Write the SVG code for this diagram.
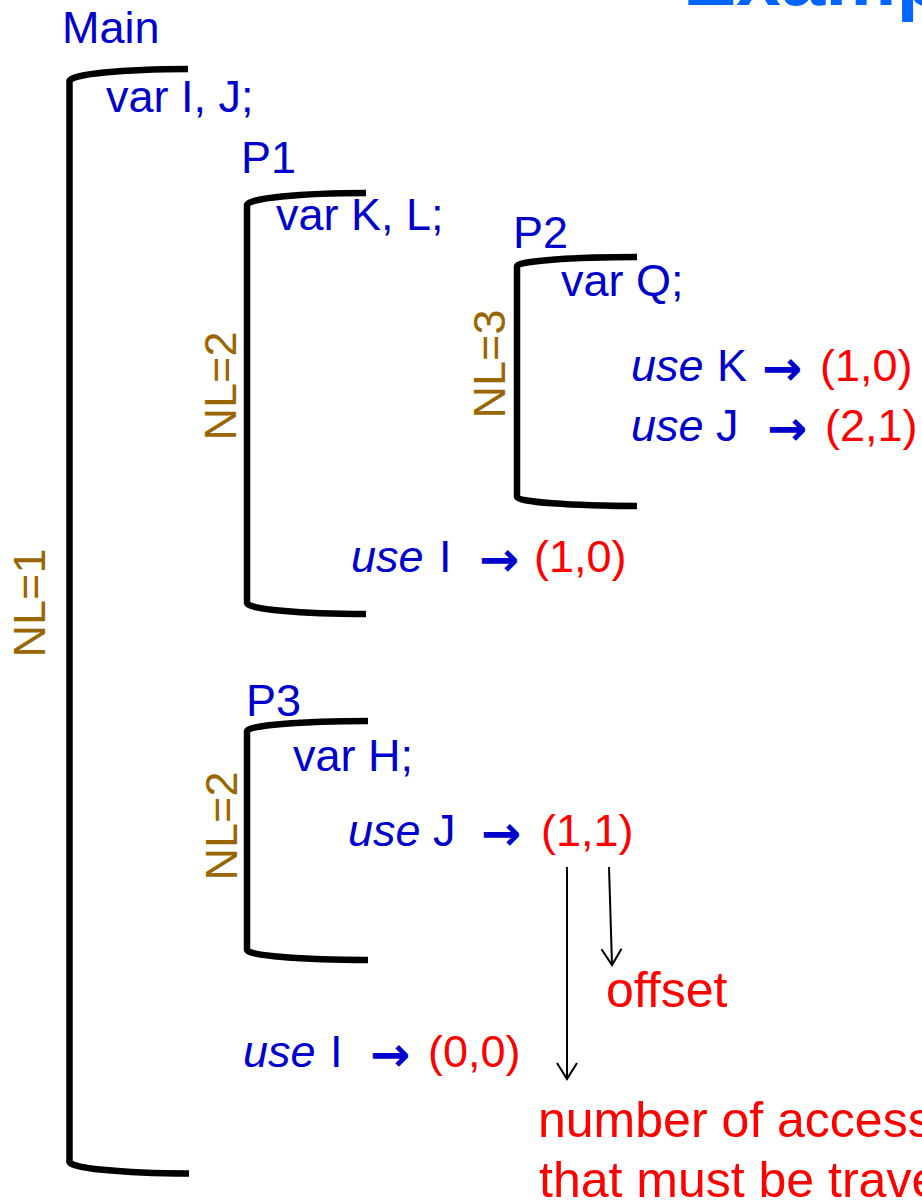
<svg xmlns="http://www.w3.org/2000/svg" width="922" height="1202" viewBox="0 0 922 1202">
<defs>
<style>
text { font-family: "Liberation Sans", Arial, sans-serif; font-size: 45px; }
.b { fill: #0000CC; }
.r { fill: #FF0000; }
.nl { fill: #996600; }
.i { font-style: italic; }
.arr { font-family: "DejaVu Sans", sans-serif; font-weight: bold; font-size: 48px; }
.big { font-size: 50px; fill: #FF0000; }
.title { font-size: 80px; font-weight: bold; fill: #0066FF; }
.br { fill: none; stroke: #000; stroke-width: 6.5; }
.ar { fill: none; stroke: #000; stroke-width: 2; }
</style>
<marker id="head" viewBox="-18 -12 20 24" refX="0" refY="0" markerWidth="20" markerHeight="24" markerUnits="userSpaceOnUse" orient="auto" overflow="visible">
<path d="M-16,-10 L0,0 L-16,10" fill="none" stroke="#000" stroke-width="2"/>
</marker>
</defs>
<rect width="922" height="1202" fill="#fff"/>

<g id="title">
<text class="title" x="683" y="5">Example</text>
</g>

<g id="main">
<text class="b" x="62" y="43">Main</text>
<path class="br" d="M188,69 A119,12 0 0 0 69.5,81 L69.5,1161 A119.5,12 0 0 0 189,1173.5"/>
<text class="nl" transform="translate(45,603) rotate(-90)" text-anchor="middle">NL=1</text>
<text class="b" x="106" y="112">var I, J;</text>
<text class="b" y="1067"><tspan class="i" x="243">use</tspan><tspan x="330">I</tspan><tspan class="arr" x="370" dy="4">→</tspan><tspan class="r" x="428" dy="-4">(0,0)</tspan></text>
</g>

<g id="p1">
<text class="b" x="241" y="173">P1</text>
<path class="br" d="M366,193 A119,12 0 0 0 247,205 L247,603 A119,11 0 0 0 366,614"/>
<text class="nl" transform="translate(236,386) rotate(-90)" text-anchor="middle">NL=2</text>
<text class="b" x="276" y="230">var K, L;</text>
<text class="b" y="572"><tspan class="i" x="351">use</tspan><tspan x="439">I</tspan><tspan class="arr" x="479" dy="4">→</tspan><tspan class="r" x="534" dy="-4">(1,0)</tspan></text>
</g>

<g id="p2">
<text class="b" x="513" y="248">P2</text>
<path class="br" d="M637,257 A120,9 0 0 0 517,266 L517,497 A120,9 0 0 0 637,506"/>
<text class="nl" transform="translate(505,364) rotate(-90)" text-anchor="middle">NL=3</text>
<text class="b" x="561" y="296">var Q;</text>
<text class="b" y="381"><tspan class="i" x="631">use</tspan><tspan x="717">K</tspan><tspan class="arr" x="762" dy="4">→</tspan><tspan class="r" x="820" dy="-4">(1,0)</tspan></text>
<text class="b" y="441"><tspan class="i" x="631">use</tspan><tspan x="716">J</tspan><tspan class="arr" x="767" dy="4">→</tspan><tspan class="r" x="825" dy="-4">(2,1)</tspan></text>
</g>

<g id="p3">
<text class="b" x="246" y="716">P3</text>
<path class="br" d="M368,721 A121,10 0 0 0 247,731 L247,950 A121,10 0 0 0 368,960"/>
<text class="nl" transform="translate(237,826) rotate(-90)" text-anchor="middle">NL=2</text>
<text class="b" x="293" y="771">var H;</text>
<text class="b" y="846"><tspan class="i" x="348">use</tspan><tspan x="433">J</tspan><tspan class="arr" x="481" dy="4">→</tspan><tspan class="r" x="541" dy="-4">(1,1)</tspan></text>
</g>

<g id="offset-label">
<text class="big" x="606" y="1007">offset</text>
</g>

<g id="access-label">
<text class="big" x="538" y="1137">number of access links</text>
<text class="big" x="539" y="1197">that must be traversed</text>
</g>

<g id="connectors">
<path class="ar" d="M567,867 L567,1079" marker-end="url(#head)"/>
<path class="ar" d="M609,867 L612,965" marker-end="url(#head)"/>
</g>
</svg>
